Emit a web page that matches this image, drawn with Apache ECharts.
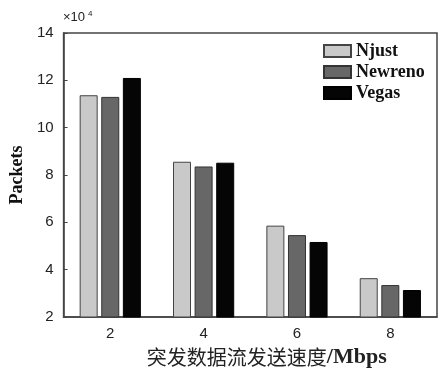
<!DOCTYPE html>
<html><head><meta charset="utf-8">
<script src="https://cdn.jsdelivr.net/npm/echarts@6/dist/echarts.min.js"></script>
<style>html,body{margin:0;padding:0;background:#fff}#c{width:441px;height:373px}</style>
</head><body><div id="c"></div>
<script>
const categories = ['2', '4', '6', '8'];
const njust = [11.37, 8.56, 5.86, 3.64];
const newreno = [11.30, 8.36, 5.46, 3.35];
const vegas = [12.10, 8.52, 5.17, 3.14];
const yTicks = [2, 4, 6, 8, 10, 12, 14];

const chart = echarts.init(document.getElementById('c'));
const serif = '"Liberation Serif", "DejaVu Serif", serif';
const sans = '"Liberation Sans", Arial, sans-serif';
chart.setOption({
  animation: false,
  grid: {left: 62, top: 33, right: 4, bottom: 48, show: true, borderColor: '#444', borderWidth: 1.5},
  legend: {
    orient: 'vertical', left: 318, top: 37, itemWidth: 27, itemHeight: 12, itemGap: 3, icon: 'rect',
    textStyle: {fontFamily: serif, fontWeight: 'bold', fontSize: 18, color: '#111', lineHeight: 16},
    data: ['Njust', 'Newreno', 'Vegas']
  },
  xAxis: {
    type: 'category', data: categories,
    axisLine: {lineStyle: {color: '#444', width: 1.5}},
    axisTick: {inside: true, alignWithLabel: true, length: 4, lineStyle: {color: '#444'}},
    axisLabel: {fontFamily: sans, fontSize: 15, color: '#222', margin: 9},
    name: '{a|突发数据流发送速度}{b|/Mbps}', nameLocation: 'middle', nameGap: 29,
    nameTextStyle: {
      padding: [0, 0, 0, 33],
      rich: {
        a: {fontFamily: '"Noto Sans CJK SC", sans-serif', fontSize: 20, color: '#222'},
        b: {fontFamily: serif, fontWeight: 'bold', fontSize: 22, color: '#222'}
      }
    }
  },
  yAxis: {
    type: 'value', min: 2, max: 14, interval: 2,
    axisLine: {show: true, lineStyle: {color: '#444', width: 1.5}},
    axisTick: {show: true, inside: true, length: 4, lineStyle: {color: '#444'}},
    splitLine: {show: false},
    axisLabel: {fontFamily: sans, fontSize: 15, color: '#222', margin: 10,
      formatter: v => yTicks.includes(v) ? String(v) : ''},
    name: 'Packets', nameLocation: 'middle', nameGap: 36,
    nameTextStyle: {fontFamily: serif, fontWeight: 'bold', fontSize: 18, color: '#111'}
  },
  graphic: [{type: 'text', left: 63, top: 11, style: {text: '×10', fontFamily: sans, fontSize: 13, fill: '#222'}},
            {type: 'text', left: 88, top: 10, style: {text: '4', fontFamily: sans, fontSize: 8, fill: '#222'}}],
  series: [
    {name: 'Njust', type: 'bar', data: njust, barWidth: 18, barGap: '20%',
      itemStyle: {color: '#c9c9c9', borderColor: '#444', borderWidth: 1}},
    {name: 'Newreno', type: 'bar', data: newreno, barWidth: 18, barGap: '20%',
      itemStyle: {color: '#676767', borderColor: '#333', borderWidth: 1}},
    {name: 'Vegas', type: 'bar', data: vegas, barWidth: 18, barGap: '20%',
      itemStyle: {color: '#050505', borderColor: '#000', borderWidth: 1}}
  ]
});
</script></body></html>
